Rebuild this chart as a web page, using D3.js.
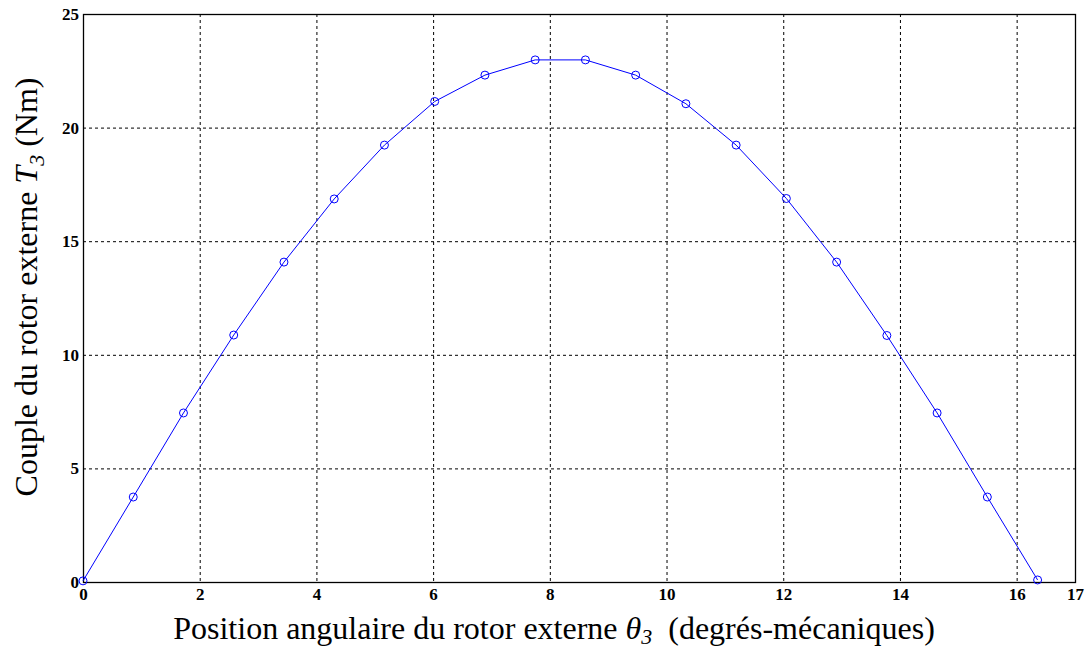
<!DOCTYPE html>
<html><head><meta charset="utf-8">
<script src="https://cdn.jsdelivr.net/npm/d3@7"></script>
<style>body{margin:0;background:#fff}svg{display:block}
.tick text{font-family:'Liberation Serif','Times New Roman',serif;font-size:17px;font-weight:bold;fill:#000}</style>
</head><body>
<svg id="c" width="1086" height="649"></svg>
<script>
const thetaValues = [0, 0.861, 1.722, 2.583, 3.444, 4.305, 5.166, 6.027, 6.888, 7.749, 8.61, 9.471, 10.332, 11.193, 12.054, 12.915, 13.776, 14.637, 15.498, 16.359];
const torqueValues = [0.05, 3.74, 7.44, 10.87, 14.08, 16.86, 19.23, 21.15, 22.31, 22.98, 22.98, 22.31, 21.05, 19.23, 16.88, 14.08, 10.85, 7.44, 3.74, 0.09];
const xTicks = [0, 2, 4, 6, 8, 10, 12, 14, 16, 17];
const yTicks = [0, 5, 10, 15, 20, 25];

const svg = d3.select("#c");
const L = 83, R = 1075, T = 14, B = 582;
const x = d3.scaleLinear().domain([0, 17]).range([L, R]);
const y = d3.scaleLinear().domain([0, 25]).range([B, T]);
const font = "'Liberation Serif','Times New Roman',serif";

// grid
const g = svg.append("g");
g.selectAll(".gx").data(xTicks.filter(d => d > 0 && d < 17)).enter().append("line")
  .attr("x1", d => x(d) + 0.5).attr("x2", d => x(d) + 0.5).attr("y1", T).attr("y2", B)
  .attr("stroke", "#000").attr("stroke-width", 1).attr("stroke-dasharray", "3,3");
g.selectAll(".gy").data(yTicks.filter(d => d > 0 && d < 25)).enter().append("line")
  .attr("y1", d => y(d) + 0.5).attr("y2", d => y(d) + 0.5).attr("x1", L).attr("x2", R)
  .attr("stroke", "#000").attr("stroke-width", 1).attr("stroke-dasharray", "3,3");

// frame
svg.append("rect").attr("x", L + 0.5).attr("y", T + 0.5).attr("width", R - L).attr("height", B - T)
  .attr("fill", "none").attr("stroke", "#000").attr("stroke-width", 1.3);

// axes (tick labels)
const xAxis = d3.axisBottom(x).tickValues(xTicks).tickSize(0).tickPadding(6).tickFormat(d3.format("d"));
const ax = svg.append("g").attr("transform", `translate(0,${B})`).call(xAxis);
ax.select(".domain").remove();
const yAxis = d3.axisLeft(y).tickValues(yTicks).tickSize(0).tickPadding(4).tickFormat(d3.format("d"));
const ay = svg.append("g").attr("transform", `translate(${L},0)`).call(yAxis);
ay.select(".domain").remove();

// line
const pts = thetaValues.map((t, i) => [t, torqueValues[i]]);
svg.append("path").datum(pts)
  .attr("d", d3.line().x(d => x(d[0])).y(d => y(d[1])))
  .attr("fill", "none").attr("stroke", "#0000ff").attr("stroke-width", 1);
svg.selectAll(".pt").data(pts).enter().append("circle")
  .attr("cx", d => x(d[0])).attr("cy", d => y(d[1])).attr("r", 4)
  .attr("fill", "none").attr("stroke", "#0000ff").attr("stroke-width", 1);

// axis labels
const xl = svg.append("text").attr("x", 554).attr("y", 639).attr("text-anchor", "middle")
  .attr("font-family", font).attr("font-size", 32).attr("fill", "#000");
xl.append("tspan").text("Position angulaire du rotor externe ");
xl.append("tspan").attr("font-style", "italic").text("θ");
xl.append("tspan").attr("font-style", "italic").attr("font-size", 22).attr("dy", 5).text("3");
xl.append("tspan").attr("dy", -5).text("\u00a0 (degrés-mécaniques)");

const yl = svg.append("text").attr("transform", "translate(37,287) rotate(-90)").attr("text-anchor", "middle")
  .attr("font-family", font).attr("font-size", 32).attr("fill", "#000");
yl.append("tspan").text("Couple du rotor externe ");
yl.append("tspan").attr("font-style", "italic").text("T");
yl.append("tspan").attr("font-style", "italic").attr("font-size", 22).attr("dy", 7).text("3");
yl.append("tspan").attr("dy", -7).text(" (Nm)");
</script>
</body></html>
